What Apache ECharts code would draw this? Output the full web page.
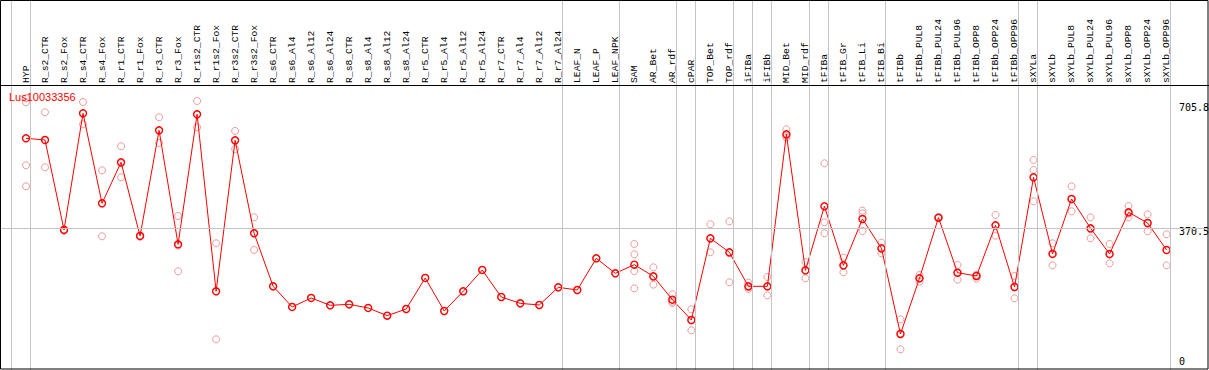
<!DOCTYPE html>
<html><head><meta charset="utf-8">
<script src="https://cdn.jsdelivr.net/npm/echarts@6/dist/echarts.min.js"></script>
<style>html,body{margin:0;padding:0;background:#fff}#c{width:1209px;height:370px}</style>
</head><body><div id="c"></div>
<script>
const geneName = 'Lus10033356';
const categories = ['HYP','R_s2_CTR','R_s2_Fox','R_s4_CTR','R_s4_Fox','R_r1_CTR','R_r1_Fox','R_r3_CTR','R_r3_Fox',
  'R_r1s2_CTR','R_r1s2_Fox','R_r3s2_CTR','R_r3s2_Fox','R_s6_CTR','R_s6_Al4','R_s6_Al12','R_s6_Al24',
  'R_s8_CTR','R_s8_Al4','R_s8_Al12','R_s8_Al24','R_r5_CTR','R_r5_Al4','R_r5_Al12','R_r5_Al24',
  'R_r7_CTR','R_r7_Al4','R_r7_Al12','R_r7_Al24','LEAF_N','LEAF_P','LEAF_NPK','SAM','AR_Bet','AR_rdf',
  'cPAR','TOP_Bet','TOP_rdf','iFIBa','iFIBb','MID_Bet','MID_rdf','tFIBa','tFIB_Gr','tFIB_Li','tFIB_Bi',
  'tFIBb','tFIBb_PUL8','tFIBb_PUL24','tFIBb_PUL96','tFIBb_OPP8','tFIBb_OPP24','tFIBb_OPP96',
  'sXYLa','sXYLb','sXYLb_PUL8','sXYLb_PUL24','sXYLb_PUL96','sXYLb_OPP8','sXYLb_OPP24','sXYLb_OPP96'];
const means = [602.7,598.4,366.3,667.2,435.0,540.8,350.8,623.3,329.3,664.6,208.1,597.5,357.7,
  221.0,167.7,190.9,172.0,174.5,165.1,145.3,162.5,242.5,157.3,208.1,263.1,193.4,177.1,172.8,218.4,
  211.5,293.2,254.5,276.8,246.8,186.6,134.1,344.8,308.7,221.0,221.0,613.0,262.2,427.3,275.1,394.6,
  319.0,98.0,241.6,398.1,256.2,247.6,378.3,219.2,502.1,304.4,446.2,370.6,304.4,411.8,384.3,314.7];
const replicates = [
  [705.9,695.6,533.1,478.9],[669.8,527.9,597.6],[368.0,365.4,364.5],[696.4,638.8,666.3],
  [520.2,349.9,435.0],[582.1,502.1,538.2],[352.0,349.0,351.0],[656.9,590.7,622.5],
  [402.4,259.6,325.9],[699.0,631.1,664.6],[331.9,84.3,208.1],[621.6,575.2,595.8],
  [398.9,314.7,359.4],[221.0],[167.7],[190.9],[172.0],[174.5],[165.1],[145.3],[162.5],
  [242.5],[157.3],[208.1],[263.1],[193.4],[177.1],[172.8],[218.4],[211.5],[293.2],[254.5],
  [330.2,303.5,260.5,215.8],[270.0,225.3,245.0],[200.3,178.0,181.4],[161.6,107.5,133.3],
  [380.9,308.7,344.8],[388.6,231.3,306.1],[230.4,214.1,218.4],[245.0,197.7,220.1],
  [625.9,604.4,608.7],[283.7,241.6,261.4],[538.2,386.0,357.7],[294.9,257.1,273.4],
  [416.1,409.2,363.6],[333.6,306.1,317.3],[135.8,58.5,99.7],[250.2,233.0,241.6],
  [399.8,396.4,398.1],[276.0,238.2,254.5],[250.2,240.7,250.2],[405.0,351.6,378.3],
  [247.6,190.0,220.1],[546.8,521.0,440.2],[331.9,275.1,306.1],[478.9,414.4,445.4],
  [398.9,344.8,368.0],[330.2,280.3,302.6],[428.2,398.9,408.4],[406.7,362.8,383.5],
  [355.1,275.1,313.8]];
const separatorsAfter = [-1,0,28,31,34,35,37,38,39,41,42,45,52,53,60];
const yTickValues = [0, 370.5, 705.8];
const midLineValue = 370.5;

const chart = echarts.init(document.getElementById('c'), null, {renderer: 'svg'});
const sepOffset = 0.21;
const option = {
  animation: false,
  backgroundColor: '#fff',
  title: {text: geneName, left: 9, top: 91, padding: 0,
    textStyle: {color: '#ff0000', fontSize: 11, fontWeight: 'normal', fontFamily: 'Liberation Sans'}},
  grid: {left: 0, right: 0, top: 0, bottom: -2, containLabel: false, outerBoundsMode: 'none'},
  xAxis: {type: 'value', min: -1.3677, max: 62.23, position: 'top', offset: -85,
    axisLine: {show: false},
    axisTick: {show: false}, splitLine: {show: false},
    axisLabel: {customValues: categories.map((_, i) => i), formatter: v => categories[Math.round(v)] || '',
      rotate: 90, margin: 2, fontFamily: 'Liberation Mono', fontSize: 9.7, color: '#000',
      showMinLabel: true, showMaxLabel: true}},
  yAxis: {type: 'value', min: 0, max: 959.4, position: 'right', offset: -39,
    axisLine: {show: false}, axisTick: {show: false}, splitLine: {show: false},
    axisLabel: {customValues: yTickValues, margin: 9, color: '#000', fontFamily: 'DejaVu Sans Mono', fontSize: 10,
      showMinLabel: true, showMaxLabel: true,
      formatter: v => v === 0 ? '{b|0}' : (v > 500 ? '{m|' + v + '}' : '{t|' + v + '}'),
      rich: {
        b: {padding: [0, 0, 21, 0], fontFamily: 'DejaVu Sans Mono', fontSize: 10, color: '#000'},
        m: {padding: [19, 0, 0, 0], fontFamily: 'DejaVu Sans Mono', fontSize: 10, color: '#000'},
        t: {padding: [7, 0, 0, 0], fontFamily: 'DejaVu Sans Mono', fontSize: 10, color: '#000'}
      }}},
  graphic: [
    {type: 'line', z: 100, silent: true, shape: {x1: 0, y1: 85.5, x2: 1209, y2: 85.5},
      style: {stroke: '#000', lineWidth: 1}},
    {type: 'rect', z: 100, silent: true,
      shape: {x: 0.5, y: 0.5, width: 1207.5, height: 368.5},
      style: {fill: 'none', stroke: '#000', lineWidth: 1}}],
  series: [
    {type: 'line', data: [], z: 1, silent: true,
      markLine: {silent: true, symbol: 'none', animation: false, label: {show: false},
        lineStyle: {color: '#c4c4c4', width: 1, type: 'solid'},
        emphasis: {disabled: true},
        data: separatorsAfter.map(i => ({xAxis: i + sepOffset})).concat([{yAxis: midLineValue}])}},
    {type: 'scatter', z: 2, silent: true,
      data: replicates.flatMap((r, i) => r.map(v => [i, v])),
      symbol: 'circle', symbolSize: 7,
      itemStyle: {color: 'rgba(255,255,255,0)', borderColor: '#ef9a9a', borderWidth: 1, opacity: 1}},
    {type: 'line', z: 3, silent: true,
      data: means.map((v, i) => [i, v]),
      symbol: 'circle', symbolSize: 7, showSymbol: true, showAllSymbol: true,
      lineStyle: {color: '#ff0000', width: 1},
      itemStyle: {color: 'rgba(255,255,255,0)', borderColor: '#ff0000', borderWidth: 1.4}}
  ]
};
chart.setOption(option);
</script></body></html>
